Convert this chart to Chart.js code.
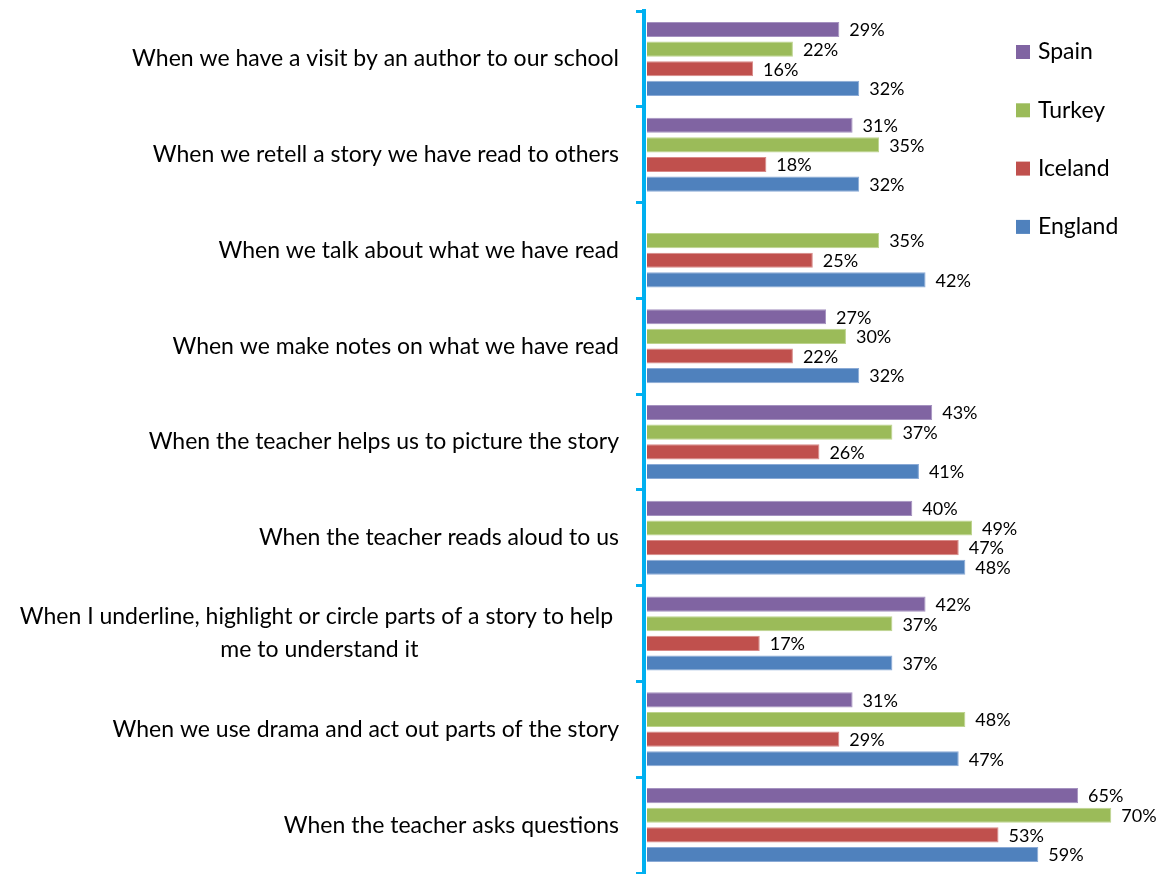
<!DOCTYPE html>
<html>
<head>
<meta charset="utf-8">
<title>Reading activities</title>
<script src="https://cdn.jsdelivr.net/npm/chart.js@4.4.1/dist/chart.umd.min.js"></script>
<style>
    body { margin: 0; background: #ffffff; }
    #wrap { position: relative; width: 1165px; height: 874px; }
</style>
</head>
<body>
<div id="wrap"><canvas id="readingChart"></canvas></div>
<script>
// Categories, top to bottom (wrapped label given as lines)
const categories = [
    ['When we have a visit by an author to our school'],
    ['When we retell a story we have read to others'],
    ['When we talk about what we have read'],
    ['When we make notes on what we have read'],
    ['When the teacher helps us to picture the story'],
    ['When the teacher reads aloud to us'],
    ['When I underline, highlight or circle parts of a story to help ', 'me to understand it'],
    ['When we use drama and act out parts of the story'],
    ['When the teacher asks questions']
];

// Percentages per country
const spain   = [29, 31, null, 27, 43, 40, 42, 31, 65];
const turkey  = [22, 35, 35, 30, 37, 49, 37, 48, 70];
const iceland = [16, 18, 25, 22, 26, 47, 17, 29, 53];
const england = [32, 32, 42, 32, 41, 48, 37, 47, 59];

const seriesNames = ['Spain', 'Turkey', 'Iceland', 'England'];
const seriesColors = ['#8064A2', '#9BBB59', '#C0504D', '#4F81BD'];
const seriesBorders = ['#A592C0', '#BDD48E', '#D88A88', '#8AAAD6'];

const labelFont = '23px Lato';
const valueFont = '18px Lato';

// Draws the percentage next to every bar
const valueLabels = {
    id: 'valueLabels',
    afterDatasetsDraw(chart) {
        const ctx = chart.ctx;
        ctx.save();
        ctx.font = valueFont;
        ctx.fillStyle = '#000000';
        ctx.textAlign = 'left';
        ctx.textBaseline = 'middle';
        chart.data.datasets.forEach((ds, i) => {
            const meta = chart.getDatasetMeta(i);
            meta.data.forEach((bar, j) => {
                const v = ds.data[j];
                if (v === null) return;
                ctx.fillText(v + '%', bar.x + 10, bar.y + 1);
            });
        });
        ctx.restore();
    }
};

// Category labels: block right aligned, lines centred within the block
const categoryLabels = {
    id: 'categoryLabels',
    afterDraw(chart) {
        const ctx = chart.ctx;
        const yScale = chart.scales.y;
        const right = 619;
        const lineHeight = 33;
        ctx.save();
        ctx.font = labelFont;
        ctx.fillStyle = '#000000';
        ctx.textAlign = 'center';
        ctx.textBaseline = 'middle';
        categories.forEach((lines, i) => {
            const widths = lines.map(l => ctx.measureText(l).width);
            const blockWidth = Math.max(...widths);
            const cx = right - blockWidth / 2;
            const cy = yScale.getPixelForValue(i);
            const top = cy - (lines.length - 1) * lineHeight / 2;
            lines.forEach((l, k) => {
                ctx.fillText(l, cx, top + k * lineHeight);
            });
        });
        ctx.restore();
    }
};

// Legend on the right, drawn over the plot area like the original
const sideLegend = {
    id: 'sideLegend',
    afterDraw(chart) {
        const ctx = chart.ctx;
        ctx.save();
        ctx.font = labelFont;
        ctx.textAlign = 'left';
        ctx.textBaseline = 'middle';
        seriesNames.forEach((name, i) => {
            const y = 52 + i * 58.3;
            ctx.fillStyle = seriesColors[i];
            ctx.fillRect(1016, y - 7, 14, 14);
            ctx.fillStyle = '#000000';
            ctx.fillText(name, 1038, y);
        });
        ctx.restore();
    }
};

const datasets = [spain, turkey, iceland, england].map((values, i) => ({
    label: seriesNames[i],
    data: values,
    backgroundColor: seriesColors[i],
    borderColor: seriesBorders[i],
    borderWidth: 1,
    categoryPercentage: 0.82,
    barPercentage: 0.77
}));

new Chart(document.getElementById('readingChart'), {
    type: 'bar',
    data: {
        labels: categories.map(c => c.join(' ')),
        datasets: datasets
    },
    options: {
        indexAxis: 'y',
        responsive: true,
        maintainAspectRatio: false,
        animation: false,
        layout: {
            padding: { left: 636, right: 1, top: 11, bottom: 1 }
        },
        scales: {
            x: {
                display: false,
                min: -0.45,
                max: 77.95
            },
            y: {
                grid: {
                    display: true,
                    drawOnChartArea: false,
                    drawTicks: true,
                    tickLength: 8,
                    tickWidth: 3,
                    color: '#00B0F0',
                    offset: true
                },
                border: { display: true, color: '#00B0F0', width: 4 },
                ticks: { display: false }
            }
        },
        plugins: {
            legend: { display: false },
            tooltip: { enabled: false }
        }
    },
    plugins: [valueLabels, categoryLabels, sideLegend]
});
</script>
</body>
</html>
